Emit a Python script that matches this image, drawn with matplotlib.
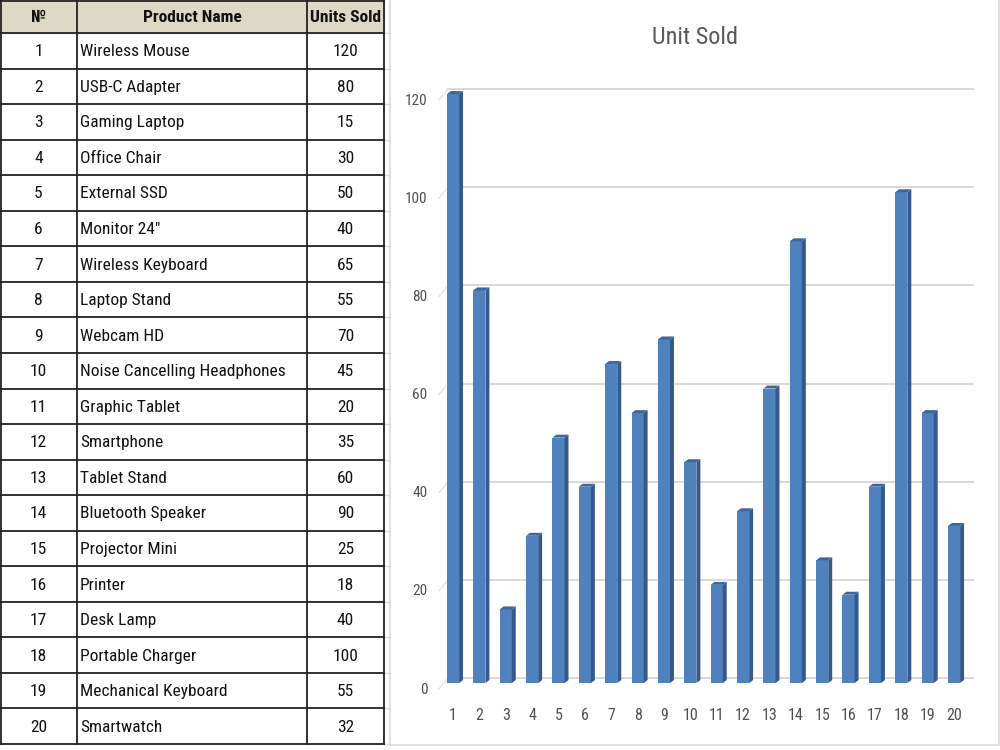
import matplotlib
matplotlib.use("Agg")
import matplotlib.pyplot as plt
from matplotlib import font_manager, transforms
from matplotlib.patches import Rectangle

# ---- data ----
item_no = list(range(1, 21))
product_names = [
    "Wireless Mouse", "USB-C Adapter", "Gaming Laptop", "Office Chair",
    "External SSD", 'Monitor 24"', "Wireless Keyboard", "Laptop Stand",
    "Webcam HD", "Noise Cancelling Headphones", "Graphic Tablet", "Smartphone",
    "Tablet Stand", "Bluetooth Speaker", "Projector Mini", "Printer",
    "Desk Lamp", "Portable Charger", "Mechanical Keyboard", "Smartwatch",
]
units_sold = [120, 80, 15, 30, 50, 40, 65, 55, 70, 45,
              20, 35, 60, 90, 25, 18, 40, 100, 55, 32]
headers = ["№", "Product Name", "Units Sold"]
y_ticks = [0, 20, 40, 60, 80, 100, 120]
chart_title = "Unit Sold"

# pick a narrow font if one is there
installed = {f.name for f in font_manager.fontManager.ttflist}
font = "Liberation Sans"
for cand in ["Liberation Sans Narrow", "Roboto Condensed", "Open Sans Condensed"]:
    if cand in installed:
        font = cand
        break
plt.rcParams["font.family"] = [font, "DejaVu Sans"]

fig = plt.figure(figsize=(10, 7.5), dpi=100)

# background axes in pixel coords (table + chart frame)
bg = fig.add_axes([0, 0, 1, 1])
bg.set_xlim(0, 1000)
bg.set_ylim(750, 0)
bg.axis("off")

col_edges = [0, 77, 307, 384]
header_h = 33
row_h = (744 - header_h) / len(item_no)

bg.add_patch(Rectangle((0, 0), col_edges[-1], header_h, color="#DDD9C4", zorder=1))

# faint excel cell lines right of the table
for k in range(len(item_no) + 1):
    yk = header_h + k * row_h
    bg.plot([col_edges[-1], 390], [yk, yk], color="#DCDCDC", lw=1, zorder=1)

# table grid
for k in range(len(item_no) + 1):
    yk = header_h + k * row_h
    bg.plot([0, col_edges[-1]], [yk, yk], color="#222222", lw=1.3, zorder=2)
bg.plot([0, col_edges[-1]], [0.5, 0.5], color="#222222", lw=1.3, zorder=2)
for xe in col_edges:
    bg.plot([xe + 0.8 if xe == 0 else xe] * 2, [0, header_h + len(item_no) * row_h],
            color="#222222", lw=1.3, zorder=2)

# header text
hx = [(col_edges[0] + col_edges[1]) / 2, (col_edges[1] + col_edges[2]) / 2,
      (col_edges[2] + col_edges[3]) / 2]
for x, h in zip(hx, headers):
    bg.text(x, header_h / 2 + 1, h, ha="center", va="center", fontsize=12.5,
            fontweight="bold", color="#111111", zorder=3)

# body text
for k, (n, name, u) in enumerate(zip(item_no, product_names, units_sold)):
    yc = header_h + (k + 0.5) * row_h + 1
    bg.text(hx[0], yc, str(n), ha="center", va="center", fontsize=12.5, color="#111111")
    bg.text(col_edges[1] + 3, yc, name, ha="left", va="center", fontsize=12.5, color="#111111")
    bg.text(hx[2], yc, str(u), ha="center", va="center", fontsize=12.5, color="#111111")

# chart frame
bg.add_patch(Rectangle((390, -2), 609, 747, fill=False, edgecolor="#D9D9D9", lw=1.2, zorder=1))

# ---- chart ----
ax = fig.add_axes([0.43, 1 - 700 / 750, 0.55, 620 / 750])
ax.set_xlim(0.128, 20.985)
ax.set_ylim(-3.46, 122.86)
ax.patch.set_alpha(0)
for s in ax.spines.values():
    s.set_visible(False)

bar_w = 0.46
dx, dy = 0.15, 0.6
wall_x0, wall_x1, wall_x2 = 0.469, 0.81, 20.72

# back-wall gridlines with little floor diagonal
for t in y_ticks:
    ax.plot([wall_x1, wall_x2], [t + 1.0, t + 1.0], color="#D9D9D9", lw=1.4, zorder=1)
    ax.plot([wall_x0, wall_x1], [t - 1.2, t + 1.0], color="#E3E3E3", lw=1.0, zorder=1)

ax.bar(item_no, units_sold, width=bar_w, color="#4F81BD", zorder=3)
for xi, v in zip(item_no, units_sold):
    r = xi + bar_w / 2
    l = xi - bar_w / 2
    ax.fill([r, r + dx, r + dx, r], [0, dy, v + dy, v], color="#34598A", zorder=3, lw=0)
    ax.fill([l, r, r + dx, l + dx], [v, v, v + dy, v + dy], color="#3E6699", zorder=3, lw=0)

ax.set_yticks(y_ticks)
ax.set_yticklabels([str(t) for t in y_ticks])
ax.set_xticks(item_no)
ax.set_xticklabels([str(n) for n in item_no])
ax.tick_params(axis="y", length=0, pad=2, labelsize=11, labelcolor="#505050")
ax.tick_params(axis="x", length=0, pad=6, labelsize=11.5, labelcolor="#505050")
shift = transforms.ScaledTranslation(0, -0.05, fig.dpi_scale_trans)
for lab in ax.get_yticklabels():
    lab.set_transform(lab.get_transform() + shift)

fig.text(0.695, 1 - 37 / 750, chart_title, ha="center", va="center",
         fontsize=17.5, color="#595959")

fig.savefig("out.png", dpi=100)
